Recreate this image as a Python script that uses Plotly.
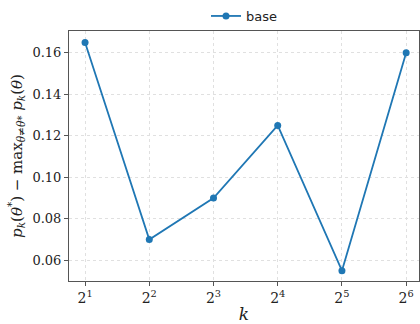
import plotly.graph_objects as go
import math

k_values = [2, 4, 8, 16, 32, 64]
base_values = [0.165, 0.070, 0.090, 0.125, 0.055, 0.160]
x_tick_vals = [2, 4, 8, 16, 32, 64]
x_tick_text = ["2<sup>1</sup>", "2<sup>2</sup>", "2<sup>3</sup>", "2<sup>4</sup>", "2<sup>5</sup>", "2<sup>6</sup>"]
y_tick_vals = [0.06, 0.08, 0.10, 0.12, 0.14, 0.16]
y_tick_text = ["0.06", "0.08", "0.10", "0.12", "0.14", "0.16"]

color = "#1f77b4"
serif = "DejaVu Serif"

fig = go.Figure()
fig.add_trace(go.Scatter(
    x=k_values, y=base_values, mode="lines+markers", name="base",
    line=dict(color=color, width=1.8), marker=dict(color=color, size=7),
))

l2 = math.log10(2)
fig.update_layout(
    width=420, height=324,
    margin=dict(l=69, r=1, t=29, b=43),
    paper_bgcolor="white", plot_bgcolor="white",
    showlegend=True,
    legend=dict(orientation="h", x=0.5, xanchor="center", y=1.0, yanchor="bottom",
                font=dict(family="DejaVu Sans", size=13, color="#222"),
                bgcolor="rgba(0,0,0,0)"),
    xaxis=dict(type="log", range=[0.75 * l2, 6.2 * l2],
               tickvals=x_tick_vals, ticktext=x_tick_text,
               showgrid=True, gridcolor="#e0e0e0", griddash="dot", gridwidth=0.8,
               showline=True, linecolor="#555", linewidth=1, mirror=True,
               ticks="outside", ticklen=4, tickcolor="#555",
               tickfont=dict(family=serif, size=14, color="#222"),
               title=dict(text="<i>k</i>", font=dict(family=serif, size=17, color="#222"), standoff=4),
               zeroline=False),
    yaxis=dict(range=[0.05, 0.1705],
               tickvals=y_tick_vals, ticktext=y_tick_text,
               showgrid=True, gridcolor="#e0e0e0", griddash="dot", gridwidth=0.8,
               showline=True, linecolor="#555", linewidth=1, mirror=True,
               ticks="outside", ticklen=4, tickcolor="#555",
               tickfont=dict(family=serif, size=13, color="#222"),
               title=dict(text="<i>p<sub>k</sub></i>(<i>θ</i><sup>*</sup>) − max<sub><i>θ</i>≠<i>θ</i>*</sub> <i>p<sub>k</sub></i>(<i>θ</i>)",
                          font=dict(family=serif, size=15, color="#222"), standoff=6),
               zeroline=False),
)

fig.write_html("out.html")
